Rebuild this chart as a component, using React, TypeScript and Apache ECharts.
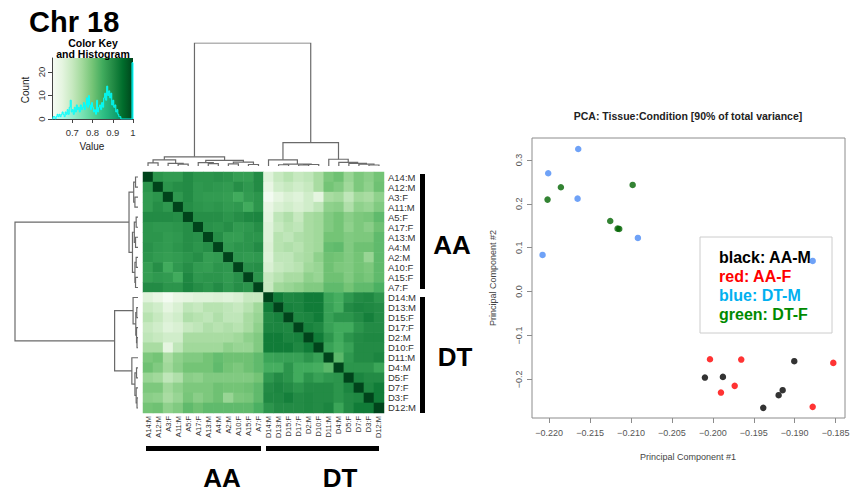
import React, { useEffect, useRef } from "react";
import * as echarts from "echarts";

const FONT = '"Liberation Sans", Arial, sans-serif';

const sampleLabels = ["A14:M","A12:M","A3:F","A11:M","A5:F","A17:F","A13:M","A4:M","A2:M","A10:F","A15:F","A7:F","D14:M","D13:M","D15:F","D17:F","D2:M","D10:F","D11:M","D4:M","D5:F","D7:F","D3:F","D12:M"];

// correlation: row i holds columns i+1 .. 23
const upperTriangle: number[][] = [
  [0.885,0.875,0.875,0.90,0.885,0.885,0.89,0.885,0.87,0.87,0.90, 0.66,0.70,0.72,0.70,0.71,0.74,0.79,0.805,0.76,0.79,0.775,0.80],
  [0.885,0.895,0.90,0.88,0.885,0.88,0.875,0.895,0.88,0.90, 0.64,0.685,0.70,0.685,0.70,0.74,0.80,0.785,0.75,0.79,0.77,0.805],
  [0.88,0.90,0.88,0.875,0.875,0.87,0.85,0.875,0.885, 0.61,0.65,0.67,0.66,0.685,0.65,0.74,0.75,0.71,0.75,0.74,0.77],
  [0.895,0.885,0.88,0.885,0.875,0.88,0.85,0.885, 0.64,0.67,0.685,0.67,0.685,0.71,0.77,0.775,0.73,0.77,0.76,0.785],
  [0.895,0.895,0.895,0.885,0.895,0.905,0.91, 0.65,0.71,0.73,0.70,0.74,0.75,0.785,0.80,0.775,0.79,0.795,0.82],
  [0.89,0.885,0.895,0.875,0.88,0.895, 0.66,0.70,0.72,0.71,0.74,0.75,0.785,0.80,0.77,0.79,0.775,0.805],
  [0.895,0.87,0.87,0.885,0.885, 0.66,0.72,0.71,0.73,0.74,0.75,0.80,0.80,0.785,0.79,0.79,0.82],
  [0.875,0.885,0.885,0.90, 0.665,0.72,0.73,0.72,0.74,0.75,0.815,0.82,0.785,0.805,0.805,0.82],
  [0.88,0.875,0.88, 0.66,0.71,0.71,0.73,0.74,0.77,0.805,0.80,0.785,0.80,0.76,0.82],
  [0.89,0.895, 0.67,0.70,0.71,0.72,0.75,0.76,0.805,0.79,0.785,0.80,0.79,0.82],
  [0.885, 0.70,0.72,0.74,0.74,0.77,0.76,0.805,0.805,0.785,0.805,0.795,0.82],
  [0.70,0.75,0.76,0.77,0.785,0.785,0.82,0.82,0.80,0.82,0.82,0.84],
  [0.925,0.905,0.91,0.925,0.925, 0.86,0.845,0.88,0.90,0.905,0.885],
  [0.915,0.91,0.925,0.925, 0.865,0.845,0.90,0.91,0.905,0.90],
  [0.905,0.91,0.925, 0.865,0.885,0.885,0.90,0.92,0.90],
  [0.915,0.905, 0.865,0.85,0.85,0.885,0.90,0.90],
  [0.925, 0.885,0.85,0.885,0.90,0.905,0.905],
  [0.865,0.845,0.865,0.90,0.90,0.90],
  [0.825,0.88,0.90,0.90,0.91],
  [0.885,0.885,0.885,0.86],
  [0.91,0.90,0.90],
  [0.905,0.925],
  [0.925],
  [],
];

// histogram of the color key: counts per 0.005 bin starting at 0.600
const histCounts = [
  0,1,1,0,1,2,1,2,1,2,
  3,2,1,3,2,4,2,5,8,3,
  4,2,5,3,6,4,5,3,6,4,
  5,7,4,6,9,5,10,6,4,7,
  5,3,4,2,8,3,5,6,4,7,
  5,9,11,8,14,10,12,9,11,6,
  8,5,6,3,4,2,1,1,0,0,
  0,0,0,0,0,0,0,0,0,24,
];
const histStart = 0.6;
const histWidth = 0.005;

// dendrograms: [left, right, height], leaves = position in order
const colTree: any = [
  [[[0,1,0.025],[2,[3,4,0.015],0.022],0.05],[[5,[6,7,0.02],0.028],[[8,9,0.018],[10,11,0.012],0.032],0.045],0.075],
  [[12,[[13,14,0.01],[[15,16,0.008],17,0.012],0.016],0.05],[18,[19,[20,[21,[22,23,0.008],0.015],0.022],0.03],0.055],0.19],
  1,
];
const rowTree: any = [
  [[[0,1,0.02],[2,3,0.025],0.035],[[[4,5,0.015],[6,7,0.02],0.03],[[8,9,0.015],[10,11,0.02],0.025],0.045],0.073],
  [[12,[[13,14,0.01],[15,[16,17,0.008],0.012],0.018],0.04],[18,[[19,20,0.012],[21,[22,23,0.008],0.015],0.025],0.05],0.19],
  1,
];

// PCA points
const dtMX = [-0.21645,-0.22012,-0.21653,-0.22081,-0.20916,-0.18780];
const dtMY = [0.325,0.2697,0.2118,0.0836,0.1223,0.0699];
const dtFX = [-0.2202,-0.21857,-0.2098,-0.21254,-0.21164,-0.21144];
const dtFY = [0.2096,0.2378,0.2431,0.161,0.1435,0.1428];
const aaFX = [-0.20035,-0.19653,-0.18528,-0.19901,-0.19733,-0.1878];
const aaFY = [-0.154,-0.1549,-0.1624,-0.2301,-0.2148,-0.2626];
const aaMX = [-0.19005,-0.20097,-0.19877,-0.19147,-0.19196,-0.19384];
const aaMY = [-0.1585,-0.1959,-0.1943,-0.2246,-0.236,-0.2649];

const pcaXTicks = [-0.22,-0.215,-0.21,-0.205,-0.2,-0.195,-0.19,-0.185];
const pcaYTicks = [-0.2,-0.1,0,0.1,0.2,0.3];
const keyXTicks = [0.7,0.8,0.9,1];
const keyYTicks = [0,10,20];

const greens = ["#F7FCF5","#E5F5E0","#C7E9C0","#A1D99B","#74C476","#41AB5D","#238B45","#006D2C","#00441B"];

function buildMatrix() {
  const n = sampleLabels.length;
  const m: number[][] = [];
  for (let i = 0; i < n; i++) m.push(new Array(n).fill(1));
  for (let i = 0; i < n; i++) {
    for (let j = i + 1; j < n; j++) {
      const v = upperTriangle[i][j - i - 1];
      m[i][j] = v;
      m[j][i] = v;
    }
  }
  const data: number[][] = [];
  for (let i = 0; i < n; i++) for (let j = 0; j < n; j++) data.push([j, i, m[i][j]]);
  return data;
}

function dendroSegments(tree: any, horizontal: boolean) {
  const segs: any[] = [];
  const walk = (node: any): [number, number] => {
    if (typeof node === "number") return [node + 0.5, 0];
    const [a, b, h] = node;
    const [pa, ha] = walk(a);
    const [pb, hb] = walk(b);
    const pts = [[pa, ha], [pa, h], [pb, h], [pb, hb]];
    segs.push({ coords: horizontal ? pts.map(([p, v]) => [v, p]) : pts });
    return [(pa + pb) / 2, h];
  };
  walk(tree);
  return segs;
}

const minus = (v: number, d: number) => (v < -1e-9 ? "\u2212" : "") + Math.abs(v).toFixed(d);

function txt(text: string, x: number, y: number, size: number, opts: any = {}) {
  return {
    type: "text",
    x, y,
    rotation: opts.rotation || 0,
    z: 5,
    silent: true,
    style: {
      text,
      fontSize: size,
      fontWeight: opts.bold ? "bold" : "normal",
      fontFamily: opts.family || FONT,
      fill: opts.color || "#000",
      align: opts.align || "center",
      textAlign: opts.align || "center",
      verticalAlign: "middle",
      textVerticalAlign: "middle",
    },
  };
}

export default function App() {
  const ref = useRef<HTMLDivElement>(null);
  useEffect(() => {
    if (!ref.current) return;
    const chart = echarts.init(ref.current, undefined, { renderer: "svg" });
    const histData: number[][] = histCounts.map((c, i) => [histStart + i * histWidth, c]);
    histData.push([1.0, 24]);
    histData.push([1.0, 0]);
    const gradient = new echarts.graphic.LinearGradient(0, 0, 1, 0,
      greens.map((c, i) => ({ offset: i / (greens.length - 1), color: c })));
    const axisGray = "#8c8c8c";
    const option: any = {
      animation: false,
      backgroundColor: "#ffffff",
      textStyle: { fontFamily: FONT },
      grid: [
        { left: 52, top: 58, width: 81, height: 61 },
        { left: 143, top: 43, width: 241, height: 123 },
        { left: 15, top: 172, width: 123, height: 241 },
        { left: 143, top: 172, width: 241, height: 241 },
        { left: 532, top: 138, width: 313, height: 280, show: true, borderColor: axisGray, borderWidth: 1, backgroundColor: "transparent" },
      ],
      xAxis: [
        {
          gridIndex: 0, type: "value", min: 0.6, max: 1,
          axisLine: { show: true, onZero: false, lineStyle: { color: "#444" } },
          axisTick: { show: true, customValues: keyXTicks, length: 4, lineStyle: { color: "#444" } },
          axisLabel: { customValues: keyXTicks, fontSize: 9.5, color: "#333", margin: 8,
            formatter: (v: number) => (v === 1 ? "1" : v.toFixed(1)) },
          splitLine: { show: false },
        },
        { gridIndex: 1, type: "value", min: 0, max: 24, show: false },
        { gridIndex: 2, type: "value", min: 0, max: 1, inverse: true, show: false },
        {
          gridIndex: 3, type: "category", data: sampleLabels, position: "bottom",
          axisLine: { show: false }, axisTick: { show: false },
          axisLabel: { rotate: 90, interval: 0, fontSize: 7.5, color: "#333", margin: 3 },
          splitLine: { show: false },
        },
        {
          gridIndex: 4, type: "value", min: -0.2221, max: -0.18385,
          axisLine: { show: false, onZero: false },
          axisTick: { show: true, customValues: pcaXTicks, length: 5, lineStyle: { color: axisGray } },
          axisLabel: { customValues: pcaXTicks, fontSize: 9, color: "#555", margin: 10,
            formatter: (v: number) => minus(v, 3) },
          splitLine: { show: false },
        },
      ],
      yAxis: [
        {
          gridIndex: 0, type: "value", min: 0, max: 26,
          axisLine: { show: true, onZero: false, lineStyle: { color: "#444" } },
          axisTick: { show: true, customValues: keyYTicks, length: 4, lineStyle: { color: "#444" } },
          axisLabel: { customValues: keyYTicks, rotate: 90, fontSize: 9.5, color: "#333", margin: 6 },
          splitLine: { show: false },
        },
        { gridIndex: 1, type: "value", min: 0, max: 1, show: false },
        { gridIndex: 2, type: "value", min: 0, max: 24, inverse: true, show: false },
        {
          gridIndex: 3, type: "category", data: sampleLabels, inverse: true, position: "right",
          axisLine: { show: false }, axisTick: { show: false },
          axisLabel: { interval: 0, fontSize: 9.5, color: "#333", margin: 4 },
          splitLine: { show: false },
        },
        {
          gridIndex: 4, type: "value", min: -0.288, max: 0.35,
          axisLine: { show: false, onZero: false },
          axisTick: { show: true, customValues: pcaYTicks, length: 5, lineStyle: { color: axisGray } },
          axisLabel: { customValues: pcaYTicks, rotate: 90, fontSize: 9, color: "#555", margin: 9,
            formatter: (v: number) => minus(v, 1) },
          splitLine: { show: false },
        },
      ],
      visualMap: {
        type: "continuous", show: false, seriesIndex: 3, dimension: 2,
        min: 0.6, max: 1, inRange: { color: greens },
      },
      series: [
        {
          type: "line", xAxisIndex: 0, yAxisIndex: 0, data: histData, step: "end",
          showSymbol: false, symbol: "none", z: 3,
          lineStyle: { color: "#00FFFF", width: 1 },
          areaStyle: { color: "#00FFFF", opacity: 0.25 },
        },
        {
          type: "lines", coordinateSystem: "cartesian2d", xAxisIndex: 1, yAxisIndex: 1,
          polyline: true, silent: true, data: dendroSegments(colTree, false),
          lineStyle: { color: "#6a6a6a", width: 1.2, opacity: 1 },
        },
        {
          type: "lines", coordinateSystem: "cartesian2d", xAxisIndex: 2, yAxisIndex: 2,
          polyline: true, silent: true, data: dendroSegments(rowTree, true),
          lineStyle: { color: "#6a6a6a", width: 1.2, opacity: 1 },
        },
        {
          type: "heatmap", xAxisIndex: 3, yAxisIndex: 3, data: buildMatrix(), progressive: 0,
          itemStyle: { borderWidth: 0 },
        },
        { type: "scatter", xAxisIndex: 4, yAxisIndex: 4, symbolSize: 6.5, z: 6,
          data: dtMX.map((x, i) => [x, dtMY[i]]), itemStyle: { color: "#4B8BF5" } },
        { type: "scatter", xAxisIndex: 4, yAxisIndex: 4, symbolSize: 6.5, z: 6,
          data: dtFX.map((x, i) => [x, dtFY[i]]), itemStyle: { color: "#006400" } },
        { type: "scatter", xAxisIndex: 4, yAxisIndex: 4, symbolSize: 6.5, z: 6,
          data: aaFX.map((x, i) => [x, aaFY[i]]), itemStyle: { color: "#FF0000" } },
        { type: "scatter", xAxisIndex: 4, yAxisIndex: 4, symbolSize: 6.5, z: 6,
          data: aaMX.map((x, i) => [x, aaMY[i]]), itemStyle: { color: "#000000" } },
      ],
      graphic: [
        { type: "rect", z: 0, silent: true, shape: { x: 52, y: 58, width: 81, height: 61 }, style: { fill: gradient } },
        txt("Chr 18", 29, 22, 29, { bold: true, align: "left" }),
        txt("Color Key", 93, 43, 10.5, { bold: true }),
        txt("and Histogram", 93, 54, 10.5, { bold: true }),
        txt("Count", 25, 90, 10, { rotation: Math.PI / 2, color: "#222" }),
        txt("Value", 92, 146, 10, { color: "#222" }),
        { type: "rect", silent: true, shape: { x: 146, y: 446, width: 115, height: 5 }, style: { fill: "#000" } },
        { type: "rect", silent: true, shape: { x: 266, y: 446, width: 113, height: 5 }, style: { fill: "#000" } },
        { type: "rect", silent: true, shape: { x: 420, y: 174, width: 5, height: 115 }, style: { fill: "#000" } },
        { type: "rect", silent: true, shape: { x: 420, y: 297, width: 5, height: 116 }, style: { fill: "#000" } },
        txt("AA", 222, 478, 26, { bold: true }),
        txt("DT", 340, 478, 26, { bold: true }),
        txt("AA", 452, 245, 26, { bold: true }),
        txt("DT", 455, 357, 26, { bold: true }),
        txt("PCA: Tissue:Condition [90% of total variance]", 688, 116, 10.5, { bold: true, color: "#222" }),
        txt("Principal Component #1", 688, 457, 9, { color: "#444" }),
        txt("Principal Component #2", 493, 278, 9, { color: "#444", rotation: Math.PI / 2 }),
        { type: "rect", z: 1, silent: true, shape: { x: 700, y: 237, width: 132, height: 96 }, style: { fill: "#ffffff", stroke: "#cccccc", lineWidth: 1 } },
        txt("black: AA-M", 719, 257, 16, { bold: true, align: "left", color: "#000000" }),
        txt("red: AA-F", 719, 276.5, 16, { bold: true, align: "left", color: "#FF0000" }),
        txt("blue: DT-M", 719, 295, 16, { bold: true, align: "left", color: "#00B0F0" }),
        txt("green: DT-F", 719, 314.5, 16, { bold: true, align: "left", color: "#008A00" }),
      ],
    };
    chart.setOption(option);
    return () => chart.dispose();
  }, []);
  return (
    <div
      ref={ref}
      style={{ position: "fixed", left: 0, top: 0, width: 866, height: 495, background: "#fff" }}
    />
  );
}
